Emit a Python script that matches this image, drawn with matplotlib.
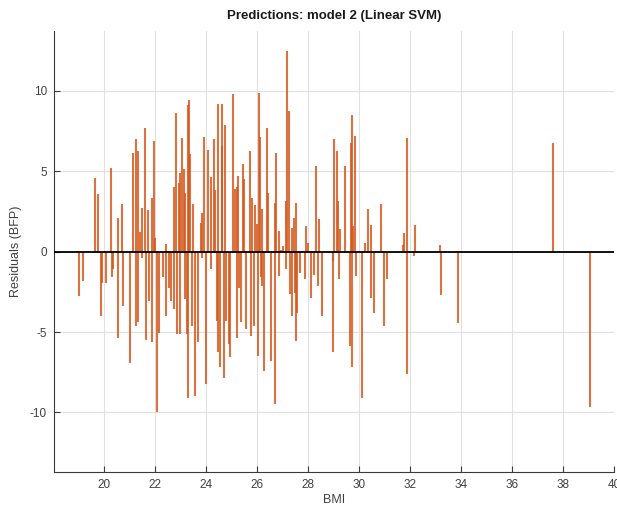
import matplotlib
matplotlib.use("Agg")
import matplotlib.pyplot as plt

plt.rcParams["axes.unicode_minus"] = False

# BMI of each observation and its residual (body fat percentage)
bmi = [
    19.01, 19.19, 19.63, 19.78, 19.87, 19.92, 20.08, 20.29, 20.31, 20.35,
    20.54, 20.56, 20.71, 20.75, 21.01, 21.14, 21.24, 21.25, 21.32, 21.33,
    21.42, 21.50, 21.51, 21.59, 21.65, 21.71, 21.78,
    21.87, 21.89, 21.96, 22.00, 22.07, 22.16, 22.30, 22.42, 22.43, 22.55,
    22.64, 22.74, 22.75, 22.81, 22.85, 22.93, 22.99, 23.00, 23.06, 23.12,
    23.18, 23.19, 23.24, 23.28, 23.29, 23.35, 23.39, 23.44, 23.50, 23.59,
    23.70, 23.79, 23.85, 23.86, 23.91, 23.99, 24.09,
    24.19, 24.20, 24.31, 24.37, 24.42, 24.47, 24.48, 24.55, 24.62, 24.63,
    24.69, 24.73, 24.78, 24.89, 24.94, 25.06, 25.12, 25.20, 25.21, 25.27,
    25.31, 25.37, 25.44, 25.50, 25.56, 25.73, 25.78, 25.79, 25.87, 25.91,
    25.99, 26.04, 26.07, 26.13, 26.14, 26.20, 26.21, 26.26, 26.38, 26.44,
    26.55, 26.69, 26.72, 26.76, 26.85, 26.86, 26.94, 27.01, 27.14, 27.15,
    27.19, 27.27, 27.31, 27.36, 27.37, 27.44, 27.48, 27.52, 27.53, 27.58,
    27.69, 27.87, 27.93, 28.00, 28.12, 28.25, 28.30, 28.41, 28.44, 28.54,
    28.97, 28.99, 29.03, 29.12, 29.16, 29.23, 29.27, 29.46, 29.66, 29.70,
    29.73, 29.74, 29.78, 29.83, 29.88, 30.12, 30.24, 30.35, 30.46, 30.47,
    30.60, 30.86, 30.97, 31.10,
    31.74, 31.78, 31.88, 31.89, 32.17, 32.21, 33.16, 33.20, 33.90,
    37.60, 39.05,
]
residuals = [
    -2.75, -1.82, 4.60, 3.56, -4.00, -1.93, -1.93, 5.18, -1.60, -1.10,
    -5.34, 2.10, 2.94, -3.37, -6.90, 6.10, 7.00, -4.60, 6.25, -4.40,
    1.20, 2.70, -0.40, 7.70, -5.50, 2.60, -3.06,
    3.35, -5.65, 6.87, 0.87, -10.00, -5.03, -1.60, -4.00, 0.45, -2.24,
    -3.06, 4.00, -3.58, 8.60, -5.13, 4.28, -5.13, 4.86, 7.04, 5.11,
    -2.96, 3.66, -5.13, 9.09, -9.07, 9.40, 6.05, -4.60, 2.94, -8.96,
    -5.65, 1.80, -0.37, 2.38, 7.12, -8.24, 6.29,
    -1.10, 4.66, 7.00, 3.80, -4.30, 9.15, -6.27, -7.20, 6.56, 9.15,
    -7.83, 7.90, -4.30, -5.75, -6.58, 9.81, 3.91, -5.34, 4.00, 4.70,
    -2.24, -4.40, 5.47, 4.49, -4.82, 6.25, -5.24, 3.35, -4.60, 2.90,
    1.70, -6.48, 9.88, 7.12, -1.60, 2.63, -2.13, -7.41, 7.70, 3.62,
    -6.79, 3.04, -9.48, 6.10, 1.28, -1.50, 0.10, 0.35, -1.10, 3.15,
    12.46, 8.74, -2.65, -4.00, 1.49, 2.11, -2.55, 3.04, -5.55, -3.79,
    -1.30, -1.68, 1.60, 0.56, -2.86, -1.47, 5.32, -2.13, 2.05, -4.00,
    -6.27, -0.58, 7.00, 6.25, 3.15, -1.68, 1.39, 5.32, -5.86, 6.77,
    -7.20, 8.47, 1.60, 7.18, -1.51, -9.07, 0.52, 2.63, 1.66, -2.86,
    -3.79, 2.94, -4.60, -1.72,
    0.40, 1.18, 7.04, -7.62, -0.27, 1.66, 0.41, -2.71, -4.41,
    6.78, -9.68,
]

x_ticks = list(range(20, 41, 2))
y_ticks = [-10, -5, 0, 5, 10]

fig = plt.figure(figsize=(6.17, 5.09), dpi=100)
ax = fig.add_axes([0.0875, 0.0727, 0.9075, 0.866])

text_color = "#404040"
axis_color = "#3a3a3a"
font = ["Liberation Sans", "DejaVu Sans"]

# residual stems from zero
ax.vlines(bmi, 0, residuals, colors="#D45A20", linewidth=1.5, alpha=0.85, zorder=2)
ax.axhline(0, color="black", linewidth=1.3, zorder=3)

ax.set_xlim(18.04, 40)
ax.set_ylim(-13.7, 13.7)
ax.set_xticks(x_ticks)
ax.set_yticks(y_ticks)

ax.grid(True, color="#e0e0e0", linewidth=0.8, zorder=0)
ax.set_axisbelow(True)

for side in ("top", "right"):
    ax.spines[side].set_visible(False)
for side in ("left", "bottom"):
    ax.spines[side].set_color(axis_color)
    ax.spines[side].set_linewidth(0.8)

ax.tick_params(direction="in", length=4, width=0.8, color=axis_color,
               labelcolor=text_color, labelsize=8.5, pad=5)
for lbl in ax.get_xticklabels() + ax.get_yticklabels():
    lbl.set_family(font)

ax.set_title("Predictions: model 2 (Linear SVM)", fontsize=9.5, fontweight="bold",
             family=font, color="#1a1a1a", pad=9)
ax.set_xlabel("BMI", fontsize=9, family=font, color=text_color, labelpad=2)
ax.set_ylabel("Residuals (BFP)", fontsize=9, family=font, color=text_color, labelpad=6)

fig.savefig("out.png", dpi=100)
